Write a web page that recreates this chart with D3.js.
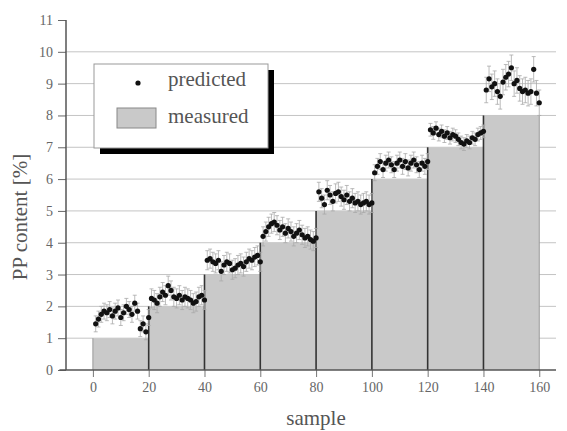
<!DOCTYPE html>
<html>
<head>
<meta charset="utf-8">
<script src="https://cdn.jsdelivr.net/npm/d3@7"></script>
<style>
  body { margin: 0; background: #fff; }
  svg { display: block; font-family: 'Liberation Serif', 'DejaVu Serif', serif; }
</style>
</head>
<body>
<svg id="chart"></svg>
<script>
// measured PP content per block of 20 samples
const blockStarts = [0, 20, 40, 60, 80, 100, 120, 140]
const measured = [1, 2, 3, 4, 5, 6, 7, 8]

// predicted values, samples 1..160
const predicted1 = [1.45, 1.6, 1.75, 1.85, 1.8, 1.9, 1.7, 1.85, 1.95, 1.65, 1.8, 2.0, 1.9, 1.75, 2.1, 1.85, 1.3, 1.45, 1.2, 1.65]
const predicted2 = [2.25, 2.2, 2.1, 2.3, 2.45, 2.35, 2.65, 2.5, 2.3, 2.25, 2.35, 2.2, 2.3, 2.25, 2.2, 2.1, 2.15, 2.3, 2.35, 2.2]
const predicted3 = [3.45, 3.5, 3.4, 3.35, 3.45, 3.1, 3.3, 3.4, 3.35, 3.15, 3.2, 3.3, 3.35, 3.25, 3.4, 3.5, 3.45, 3.55, 3.6, 3.4]
const predicted4 = [4.2, 4.35, 4.5, 4.6, 4.65, 4.55, 4.4, 4.5, 4.3, 4.45, 4.35, 4.2, 4.3, 4.4, 4.25, 4.15, 4.2, 4.1, 4.05, 4.15]
const predicted5 = [5.6, 5.4, 5.2, 5.65, 5.5, 5.3, 5.55, 5.6, 5.45, 5.35, 5.5, 5.3, 5.4, 5.25, 5.3, 5.2, 5.25, 5.3, 5.2, 5.25]
const predicted6 = [6.2, 6.4, 6.55, 6.3, 6.5, 6.6, 6.45, 6.3, 6.5, 6.6, 6.4, 6.55, 6.35, 6.5, 6.6, 6.45, 6.3, 6.5, 6.4, 6.55]
const predicted7 = [7.55, 7.45, 7.6, 7.4, 7.5, 7.35, 7.45, 7.3, 7.4, 7.35, 7.25, 7.15, 7.1, 7.2, 7.15, 7.3, 7.25, 7.4, 7.45, 7.5]
const predicted8 = [8.8, 9.15, 8.9, 9.0, 8.75, 8.6, 9.05, 9.2, 9.3, 9.5, 9.0, 9.1, 8.85, 8.75, 8.8, 8.7, 8.75, 9.45, 8.7, 8.4]
// half length of error bar per block
const errors = [0.25, 0.3, 0.3, 0.3, 0.3, 0.25, 0.2, 0.4]

const xTicks = [0, 20, 40, 60, 80, 100, 120, 140, 160]
const yTicks = [0, 1, 2, 3, 4, 5, 6, 7, 8, 9, 10, 11]
const seriesNames = ['predicted', 'measured']

const width = 567
const height = 431

const svg = d3.select('#chart').attr('width', width).attr('height', height)

const x = d3.scaleLinear().domain([-10, 166]).range([65, 556])
const y = d3.scaleLinear().domain([0, 11]).range([370, 20])

const blocks = [predicted1, predicted2, predicted3, predicted4, predicted5, predicted6, predicted7, predicted8]
const points = []
blocks.forEach((vals, b) => {
  vals.forEach((v, i) => {
    points.push({ sample: blockStarts[b] + i + 1, value: v, err: errors[b] })
  })
})

// grid lines
svg.append('g')
  .selectAll('line')
  .data(yTicks.filter(d => d > 0 && d < 11))
  .enter().append('line')
  .attr('x1', x(-10)).attr('x2', x(166))
  .attr('y1', d => y(d)).attr('y2', d => y(d))
  .style('stroke', '#c4c4c4')
  .style('stroke-width', 1)

// measured bars
svg.append('g')
  .selectAll('rect')
  .data(measured)
  .enter().append('rect')
  .attr('x', (d, i) => x(blockStarts[i]))
  .attr('y', d => y(d))
  .attr('width', (d, i) => x(blockStarts[i] + 20) - x(blockStarts[i]))
  .attr('height', d => y(0) - y(d))
  .style('fill', '#c9c9c9')

// dark separators between blocks
svg.append('g')
  .selectAll('line')
  .data(measured.slice(1))
  .enter().append('line')
  .attr('x1', (d, i) => x(blockStarts[i + 1])).attr('x2', (d, i) => x(blockStarts[i + 1]))
  .attr('y1', d => y(d)).attr('y2', y(0))
  .style('stroke', '#333')
  .style('stroke-width', 1.6)

// outer edges of first and last bar
svg.append('g')
  .selectAll('line')
  .data([0, measured.length - 1])
  .enter().append('line')
  .attr('x1', i => x(blockStarts[i] + (i === 0 ? 0 : 20)))
  .attr('x2', i => x(blockStarts[i] + (i === 0 ? 0 : 20)))
  .attr('y1', i => y(measured[i])).attr('y2', y(0))
  .style('stroke', '#9a9a9a')
  .style('stroke-width', 1)

// error bars
const eb = svg.append('g').style('stroke', '#aaa').style('stroke-width', 0.8)
eb.selectAll('line.v')
  .data(points)
  .enter().append('line')
  .attr('class', 'v')
  .attr('x1', d => x(d.sample)).attr('x2', d => x(d.sample))
  .attr('y1', d => y(d.value - d.err)).attr('y2', d => y(d.value + d.err))
eb.selectAll('line.t')
  .data(points)
  .enter().append('line')
  .attr('class', 't')
  .attr('x1', d => x(d.sample) - 2).attr('x2', d => x(d.sample) + 2)
  .attr('y1', d => y(d.value + d.err)).attr('y2', d => y(d.value + d.err))
eb.selectAll('line.b')
  .data(points)
  .enter().append('line')
  .attr('class', 'b')
  .attr('x1', d => x(d.sample) - 2).attr('x2', d => x(d.sample) + 2)
  .attr('y1', d => y(d.value - d.err)).attr('y2', d => y(d.value - d.err))

// predicted points
svg.append('g')
  .selectAll('circle')
  .data(points)
  .enter().append('circle')
  .attr('cx', d => x(d.sample))
  .attr('cy', d => y(d.value))
  .attr('r', 2.6)
  .style('fill', '#111')

// y axis
const yAxis = d3.axisLeft(y).tickValues(yTicks).tickSize(8).tickPadding(5).tickFormat(d3.format('d'))
const gy = svg.append('g')
  .attr('transform', `translate(${x(-10) + 1},0)`)
  .call(yAxis)
gy.select('.domain').remove()
gy.append('line')
  .attr('x1', 0).attr('x2', 0)
  .attr('y1', y(0)).attr('y2', y(11))
  .style('stroke', '#555').style('stroke-width', 1.5)
gy.selectAll('.tick line').style('stroke', '#666')
gy.selectAll('.tick text')
  .style('font-family', "'Liberation Serif', serif")
  .style('font-size', '14px')
  .style('fill', '#666')

// x axis
const xAxis = d3.axisBottom(x).tickValues(xTicks).tickSize(7).tickPadding(5)
const gx = svg.append('g')
  .attr('transform', `translate(0,${y(0)})`)
  .call(xAxis)
gx.select('.domain').remove()
gx.append('line')
  .attr('x1', x(-12)).attr('x2', x(166))
  .style('stroke', '#555').style('stroke-width', 1.5)
gx.selectAll('.tick line').style('stroke', '#777')
gx.selectAll('.tick text')
  .style('font-family', "'Liberation Serif', serif")
  .style('font-size', '14px')
  .style('fill', '#666')

// axis titles
svg.append('text')
  .attr('transform', `translate(27,${(y(0) + y(11)) / 2 + 22}) rotate(-90)`)
  .attr('text-anchor', 'middle')
  .style('font-size', '21px')
  .style('fill', '#555')
  .text('PP content [%]')
svg.append('text')
  .attr('x', 316)
  .attr('y', 425)
  .attr('text-anchor', 'middle')
  .style('font-size', '21px')
  .style('fill', '#555')
  .text('sample')

// legend
const legend = svg.append('g').attr('transform', 'translate(94,64)')
legend.append('rect')
  .attr('x', 6).attr('y', 6).attr('width', 174).attr('height', 84)
  .style('fill', '#000')
legend.append('rect')
  .attr('x', 0).attr('y', 0).attr('width', 174).attr('height', 84)
  .style('fill', '#fff')
  .style('stroke', '#999')
  .style('stroke-width', 1)
legend.append('circle')
  .attr('cx', 44).attr('cy', 19).attr('r', 2.6)
  .style('fill', '#111')
legend.append('rect')
  .attr('x', 23).attr('y', 44).attr('width', 39).attr('height', 20)
  .style('fill', '#c9c9c9')
  .style('stroke', '#888')
legend.selectAll('text.lab')
  .data(seriesNames)
  .enter().append('text')
  .attr('class', 'lab')
  .attr('x', 74)
  .attr('y', (d, i) => 22 + i * 37)
  .style('font-size', '21px')
  .style('fill', '#555')
  .text(d => d)
</script>
</body>
</html>
